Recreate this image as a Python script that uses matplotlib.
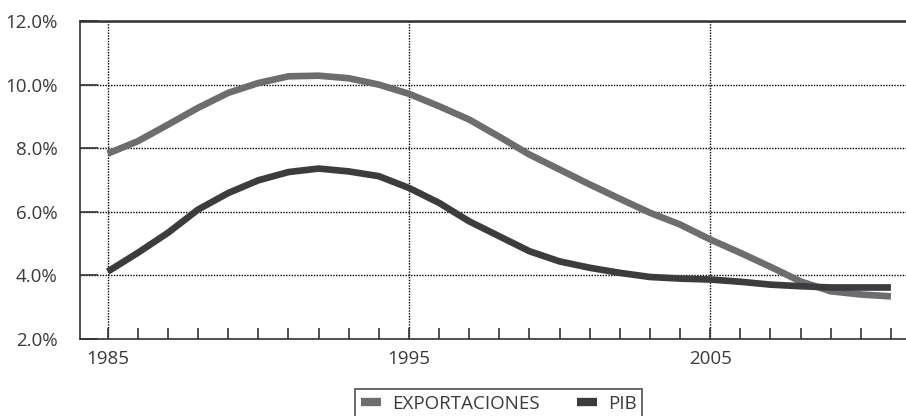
import matplotlib
matplotlib.use('Agg')
import matplotlib.pyplot as plt
import numpy as np

# yearly values (%)
years = list(range(1985, 2012))
exportaciones = [7.83, 8.22, 8.74, 9.27, 9.74, 10.05, 10.26, 10.28, 10.20, 10.00,
                 9.71, 9.32, 8.90, 8.36, 7.80, 7.33, 6.86, 6.41, 5.97, 5.60,
                 5.13, 4.71, 4.27, 3.81, 3.50, 3.40, 3.34]
pib = [4.12, 4.71, 5.34, 6.07, 6.59, 6.99, 7.25, 7.36, 7.27, 7.12,
       6.75, 6.28, 5.70, 5.23, 4.76, 4.44, 4.24, 4.08, 3.95, 3.90,
       3.87, 3.80, 3.71, 3.66, 3.62, 3.62, 3.62]
series_names = ['EXPORTACIONES', 'PIB']
series_colors = ['#6d6d70', '#3c3c3e']
major_years = [1985, 1995, 2005]
y_ticks = [2, 4, 6, 8, 10, 12]

plt.rcParams['font.family'] = ['Open Sans', 'DejaVu Sans']
txtcol = '#3a3a3a'

fig = plt.figure(figsize=(9.06, 4.16), dpi=100, facecolor='w')
ax = fig.add_axes([80/906, 1-339/416, 1-80/906, (339-21)/416])

ax.plot(years, exportaciones, color=series_colors[0], linewidth=4.8,
        solid_capstyle='butt', label=series_names[0])
ax.plot(years, pib, color=series_colors[1], linewidth=4.8,
        solid_capstyle='butt', label=series_names[1])

ax.set_xlim(1984.08, 2011.5)
ax.set_ylim(2, 12)

ax.set_xticks(major_years)
ax.set_xticks(years, minor=True)
ax.set_yticks(y_ticks)
ax.set_yticklabels(['%.1f%%' % v for v in y_ticks])

ax.grid(True, which='major', color='black', linestyle=(0, (1, 1)), linewidth=1.0)

ax.tick_params(axis='x', which='both', direction='in', length=8, width=1.2,
               color='#333333', labelsize=13.5, labelcolor=txtcol, pad=8)
ax.tick_params(axis='y', which='both', direction='in', length=13, width=1.2,
               color='#333333', labelsize=13.5, labelcolor=txtcol, pad=16)

ax.spines['right'].set_visible(False)
ax.spines['top'].set_linewidth(1.8)
ax.spines['top'].set_color('#333333')
ax.spines['left'].set_linewidth(1.2)
ax.spines['left'].set_color('#333333')
ax.spines['bottom'].set_linewidth(1.2)
ax.spines['bottom'].set_color('#333333')

leg = fig.legend(loc='upper center', bbox_to_anchor=(498.5/906, 1-380/416),
                 bbox_transform=fig.transFigure, ncol=2, fontsize=13.5,
                 frameon=True, fancybox=False, handlelength=1.1,
                 handletextpad=0.55, columnspacing=2.0, borderpad=0.3)
leg.get_frame().set_edgecolor('#222222')
leg.get_frame().set_linewidth(1.2)
for t in leg.get_texts():
    t.set_color(txtcol)
for h in leg.get_lines():
    h.set_linewidth(6)

fig.savefig('out.png', dpi=100)
